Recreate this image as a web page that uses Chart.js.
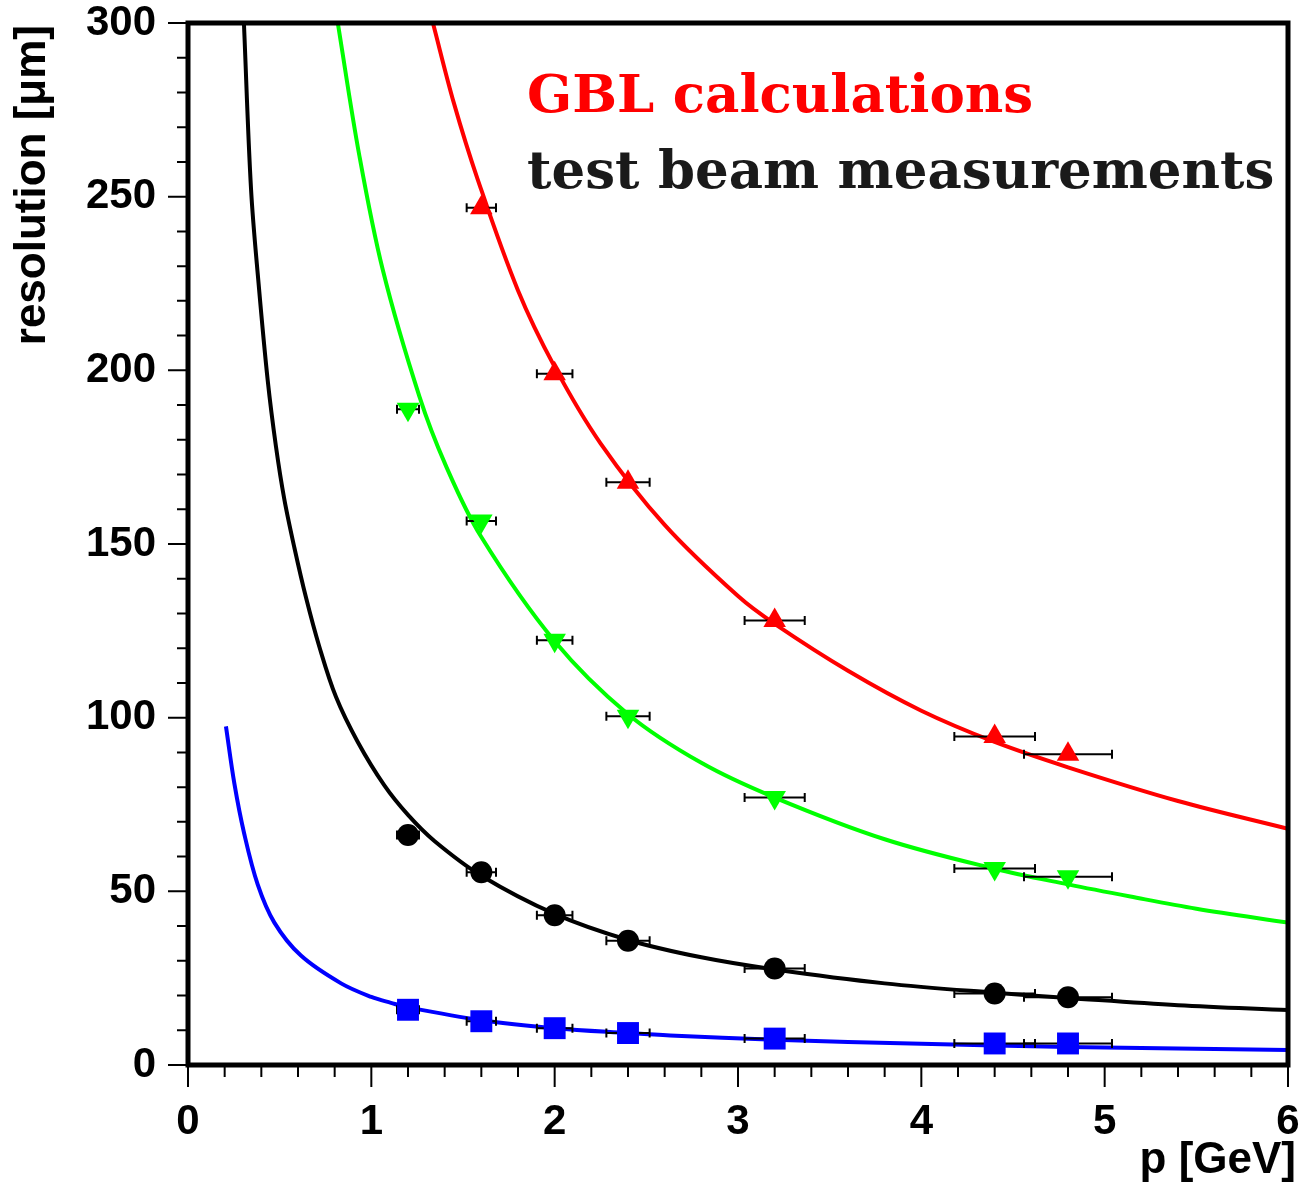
<!DOCTYPE html>
<html lang="en">
<head>
  <meta charset="UTF-8">
  <title>Resolution vs momentum</title>
  <script src="https://cdn.jsdelivr.net/npm/chart.js"></script>
  <style>
    body {
      margin: 0;
      background: #ffffff;
    }

    .chart-container {
      width: 1304px;
      height: 1183px;
      position: relative;
    }
  </style>
</head>
<body>

  <div class="chart-container">
    <canvas id="resolutionChart"></canvas>
  </div>

  <script>
    // measured points (test beam)
    const pValues = [1.2, 1.6, 2.0, 2.4, 3.2, 4.4, 4.8];
    const pErrors = [0.06, 0.08, 0.097, 0.118, 0.164, 0.22, 0.24];
    const redPoints = [null, 246.8, 199.0, 167.8, 128.0, 94.6, 89.5];
    const greenPoints = [188.8, 156.6, 122.3, 100.4, 77.0, 56.6, 54.2];
    const blackPoints = [66.2, 55.5, 43.1, 35.8, 27.8, 20.6, 19.5];
    const bluePoints = [15.9, 12.6, 10.6, 9.2, 7.6, 6.2, 6.2];

    // GBL calculation curves
    const redCurveP = [1.336, 1.45, 1.58, 1.8, 2.0, 2.25, 2.6, 3.0, 3.2, 3.6, 4.0, 4.4, 4.8, 5.4, 6.0];
    const redCurveR = [300, 277, 255, 223, 201, 179, 155.5, 135, 127, 113.5, 102, 93, 85.7, 76, 68];
    const greenCurveP = [0.817, 0.934, 1.062, 1.262, 1.407, 1.6, 2.0, 2.4, 2.8, 3.2, 3.8, 4.4, 4.8, 5.14, 5.5, 6.0];
    const greenCurveR = [300, 262, 229, 192.5, 172.5, 152, 122, 101, 87, 77, 65, 56.5, 52, 48.5, 45, 41];
    const blackCurveP = [0.305, 0.344, 0.385, 0.435, 0.48, 0.525, 0.58, 0.644, 0.716, 0.807, 0.926, 1.071, 1.2, 1.344, 1.6, 2.0, 2.4, 2.8, 3.2, 3.8, 4.4, 4.8, 5.4, 6.0];
    const blackCurveR = [300, 252, 225, 197, 178, 163, 149, 134.5, 120.5, 106, 93, 80.5, 72, 64.5, 54.5, 43.5, 36, 31, 27.5, 23.5, 20.8, 19.3, 17.2, 15.8];
    const blueCurveP = [0.207, 0.253, 0.307, 0.38, 0.471, 0.616, 0.835, 1.0, 1.107, 1.2, 1.6, 2.0, 2.4, 2.63, 3.2, 4.0, 4.8, 6.0];
    const blueCurveR = [97.5, 81, 66.5, 52, 41, 31.5, 23.5, 19.6, 17.9, 16.6, 12.9, 10.6, 9.2, 8.5, 7.3, 6.1, 5.2, 4.3];

    const xTicks = [0, 1, 2, 3, 4, 5, 6];
    const yTicks = [0, 50, 100, 150, 200, 250, 300];

    function toXY(xs, ys) {
      return xs.map((x, i) => ({ x: x, y: ys[i] })).filter(d => d.y !== null);
    }

    function curve(xs, ys, color) {
      return {
        data: toXY(xs, ys),
        showLine: true,
        borderColor: color,
        borderWidth: 4,
        pointRadius: 0,
        tension: 0.35,
        order: 2
      };
    }

    function markers(ys, color, style, radius, rotation) {
      return {
        data: toXY(pValues, ys),
        errors: pErrors.filter((e, i) => ys[i] !== null),
        showLine: false,
        backgroundColor: color,
        borderColor: color,
        borderWidth: 0,
        pointStyle: style,
        pointRadius: radius,
        rotation: rotation,
        order: 1
      };
    }

    const tickFont = { family: '"Liberation Sans", Arial, sans-serif', size: 42, weight: 'bold' };

    // no extra room for half labels at the ends of the axes
    function fitBox(size, key) {
      return s => {
        s[key] = size;
        s.paddingTop = 0; s.paddingBottom = 0;
        s.paddingLeft = 0; s.paddingRight = 0;
      };
    }

    // horizontal error bars, drawn just before each marker set
    const errorBars = {
      id: 'errorBars',
      beforeDatasetDraw(chart, args) {
        const ds = chart.data.datasets[args.index];
        if (!ds.errors) return;
        const ctx = chart.ctx;
        const xs = chart.scales.x, ys = chart.scales.y;
        ctx.save();
        ctx.strokeStyle = '#000';
        ctx.lineWidth = 2;
        ds.data.forEach((d, i) => {
          const x1 = xs.getPixelForValue(d.x - ds.errors[i]);
          const x2 = xs.getPixelForValue(d.x + ds.errors[i]);
          const y = ys.getPixelForValue(d.y);
          ctx.beginPath();
          ctx.moveTo(x1, y); ctx.lineTo(x2, y);
          ctx.moveTo(x1, y - 4.5); ctx.lineTo(x1, y + 4.5);
          ctx.moveTo(x2, y - 4.5); ctx.lineTo(x2, y + 4.5);
          ctx.stroke();
        });
        ctx.restore();
      }
    };

    // frame, outside ticks, axis titles and the text box
    const frame = {
      id: 'frame',
      afterDraw(chart) {
        const ctx = chart.ctx;
        const a = chart.chartArea;
        const xs = chart.scales.x, ys = chart.scales.y;
        ctx.save();
        ctx.strokeStyle = '#000';
        ctx.lineWidth = 2;
        ctx.beginPath();
        for (let v = 0; v <= 300.001; v += 10) {
          const y = ys.getPixelForValue(v);
          const len = (Math.round(v) % 50 === 0) ? 20 : 11;
          ctx.moveTo(a.left, y); ctx.lineTo(a.left - len, y);
        }
        for (let v = 0; v <= 6.001; v += 0.2) {
          const x = xs.getPixelForValue(v);
          const len = (Math.abs(v - Math.round(v)) < 0.01) ? 22 : 12;
          ctx.moveTo(x, a.bottom); ctx.lineTo(x, a.bottom + len);
        }
        ctx.stroke();

        ctx.lineWidth = 5;
        ctx.strokeRect(a.left, a.top, a.right - a.left, a.bottom - a.top);

        ctx.fillStyle = '#000';
        ctx.font = 'bold 44px "Liberation Sans", Arial, sans-serif';
        ctx.textAlign = 'right';
        ctx.textBaseline = 'alphabetic';
        ctx.fillText('p [GeV]', 1296, 1173);

        ctx.save();
        ctx.translate(45, 25);
        ctx.rotate(-Math.PI / 2);
        ctx.fillText('resolution [\u03bcm]', 0, 0);
        ctx.restore();

        ctx.textAlign = 'left';
        ctx.font = 'bold 53px "DejaVu Serif", serif';
        ctx.fillStyle = '#ff0000';
        ctx.fillText('GBL calculations', 527, 112);
        ctx.fillStyle = '#1a1a1a';
        ctx.fillText('test beam measurements', 527, 188);
        ctx.restore();
      }
    };

    const ctx = document.getElementById('resolutionChart').getContext('2d');

    new Chart(ctx, {
      type: 'scatter',
      data: {
        datasets: [
          curve(redCurveP, redCurveR, '#ff0000'),
          curve(greenCurveP, greenCurveR, '#00ff00'),
          curve(blackCurveP, blackCurveR, '#000000'),
          curve(blueCurveP, blueCurveR, '#0000ff'),
          markers(redPoints, '#ff0000', 'triangle', 13, 0),
          markers(greenPoints, '#00ff00', 'triangle', 13, 180),
          markers(blackPoints, '#000000', 'circle', 11, 0),
          markers(bluePoints, '#0000ff', 'rect', 15.5, 0)
        ]
      },
      options: {
        responsive: true,
        maintainAspectRatio: false,
        animation: false,
        layout: {
          padding: { top: 23, right: 16, left: 0, bottom: 0 }
        },
        plugins: {
          legend: { display: false },
          tooltip: { enabled: false }
        },
        scales: {
          x: {
            type: 'linear',
            min: 0,
            max: 6,
            afterFit: fitBox(118, 'height'),
            afterBuildTicks: s => { s.ticks = xTicks.map(v => ({ value: v })); },
            grid: { display: false, drawTicks: false },
            border: { display: false },
            ticks: { color: '#000', font: tickFont, padding: 32, maxRotation: 0 }
          },
          y: {
            type: 'linear',
            min: 0,
            max: 300,
            afterFit: fitBox(188, 'width'),
            afterBuildTicks: s => { s.ticks = yTicks.map(v => ({ value: v })); },
            grid: { display: false, drawTicks: false },
            border: { display: false },
            ticks: { color: '#000', font: tickFont, padding: 32 }
          }
        }
      },
      plugins: [errorBars, frame]
    });
  </script>
</body>
</html>
